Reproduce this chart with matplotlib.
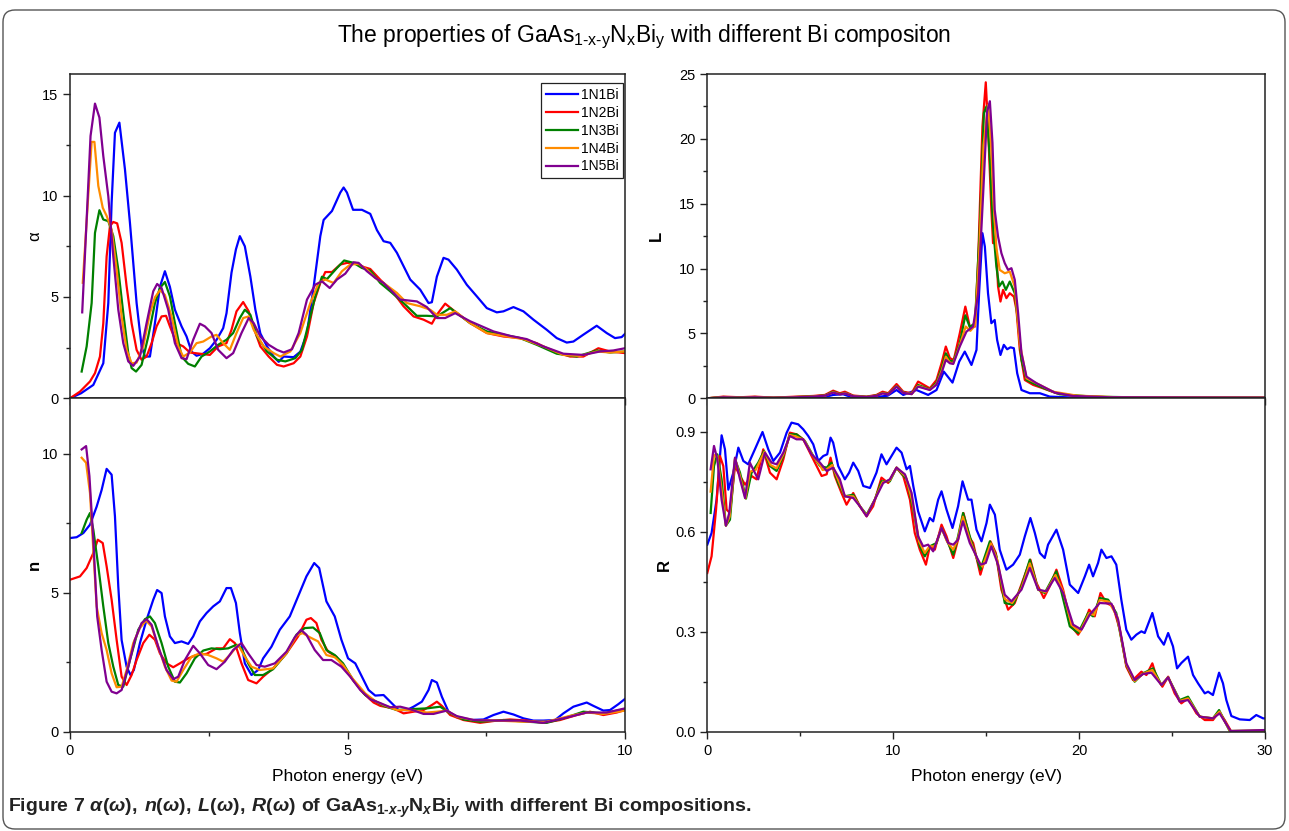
import matplotlib
matplotlib.use('Agg')
import matplotlib.pyplot as plt
from matplotlib import font_manager
from matplotlib.patches import FancyBboxPatch
from matplotlib.transforms import IdentityTransform
from matplotlib.ticker import MultipleLocator, FixedLocator, NullFormatter

labels = ['1N1Bi', '1N2Bi', '1N3Bi', '1N4Bi', '1N5Bi']
colors = ['#0000ff', '#ff0000', '#008000', '#ff8c00', '#800090']

# absorption coefficient alpha(E), E in eV
alpha_1n1bi = [(0, 0), (0.2, 0.25), (0.42, 0.66), (0.6, 1.73), (0.69, 4.7), (0.75, 9.65), (0.81, 13.1),
               (0.89, 13.6), (0.99, 11.3), (1.08, 8.66), (1.2, 4.7), (1.29, 2.56), (1.35, 2.06), (1.44, 2.06),
               (1.53, 3.7), (1.62, 5.5), (1.71, 6.27), (1.8, 5.5), (1.89, 4.37), (2.01, 3.55), (2.1, 3.05),
               (2.19, 2.3), (2.28, 2.1), (2.4, 2.2), (2.52, 2.47), (2.64, 2.88), (2.76, 3.46), (2.82, 4.2),
               (2.91, 6.2), (2.99, 7.35), (3.06, 8.0), (3.15, 7.5), (3.25, 6.0), (3.34, 4.37), (3.43, 3.2),
               (3.55, 2.56), (3.67, 2.06), (3.76, 1.8), (3.85, 2.06), (4.03, 2.03), (4.15, 2.3), (4.27, 3.2),
               (4.39, 5.5), (4.51, 8.0), (4.57, 8.8), (4.72, 9.24), (4.87, 10.15), (4.93, 10.4), (4.99, 10.15),
               (5.1, 9.3), (5.26, 9.3), (5.41, 9.1), (5.53, 8.3), (5.65, 7.75), (5.77, 7.67), (5.89, 7.18),
               (6.13, 5.86), (6.31, 5.36), (6.46, 4.7), (6.52, 4.74), (6.61, 6.0), (6.73, 6.93), (6.82, 6.84),
               (6.97, 6.35), (7.15, 5.6), (7.33, 5.03), (7.51, 4.45), (7.69, 4.24), (7.81, 4.29), (7.99, 4.5),
               (8.17, 4.29), (8.35, 3.88), (8.59, 3.38), (8.77, 2.97), (8.95, 2.75), (9.07, 2.8), (9.25, 3.14),
               (9.49, 3.58), (9.67, 3.22), (9.82, 2.97), (9.94, 3.02), (10.0, 3.18)]
alpha_1n2bi = [(0, 0), (0.18, 0.33), (0.36, 0.83), (0.45, 1.24), (0.54, 2.06), (0.6, 3.7), (0.66, 7.0),
               (0.72, 8.5), (0.78, 8.7), (0.85, 8.63), (0.93, 7.67), (1.02, 5.53), (1.11, 3.7), (1.2, 2.39),
               (1.29, 1.9), (1.38, 2.06), (1.47, 2.72), (1.56, 3.55), (1.65, 4.04), (1.73, 4.07), (1.8, 3.55),
               (1.92, 2.72), (2.04, 2.56), (2.16, 2.26), (2.34, 2.2), (2.52, 2.14), (2.67, 2.56), (2.82, 2.72),
               (2.91, 3.38), (3.0, 4.29), (3.12, 4.75), (3.22, 4.29), (3.31, 3.47), (3.43, 2.56), (3.58, 2.06),
               (3.73, 1.65), (3.85, 1.57), (4.03, 1.73), (4.15, 2.06), (4.27, 3.05), (4.39, 4.7), (4.51, 5.69),
               (4.6, 6.23), (4.72, 6.23), (4.87, 6.6), (4.99, 6.68), (5.14, 6.68), (5.29, 6.48), (5.41, 6.38),
               (5.59, 5.85), (5.83, 5.2), (6.01, 4.54), (6.19, 4.04), (6.37, 3.88), (6.52, 3.68), (6.61, 4.12),
               (6.76, 4.67), (6.91, 4.34), (7.21, 3.71), (7.51, 3.22), (7.81, 3.05), (8.11, 2.97), (8.41, 2.72),
               (8.71, 2.31), (9.01, 2.06), (9.25, 2.06), (9.52, 2.47), (9.73, 2.31), (10.0, 2.23)]
alpha_1n3bi = [(0.21, 1.32), (0.3, 2.56), (0.39, 4.7), (0.45, 8.16), (0.53, 9.28), (0.6, 8.82), (0.69, 8.74),
               (0.78, 8.0), (0.87, 6.35), (0.96, 4.2), (1.05, 2.23), (1.11, 1.49), (1.19, 1.32), (1.29, 1.65),
               (1.41, 3.05), (1.53, 4.7), (1.62, 5.44), (1.71, 5.74), (1.8, 5.03), (1.89, 3.71), (2.01, 2.06),
               (2.13, 1.7), (2.25, 1.57), (2.37, 2.06), (2.52, 2.31), (2.67, 2.64), (2.82, 2.89), (2.94, 3.22),
               (3.06, 3.96), (3.15, 4.37), (3.25, 4.12), (3.37, 3.05), (3.55, 2.31), (3.73, 1.9), (3.88, 1.82),
               (4.06, 1.98), (4.18, 2.39), (4.3, 3.71), (4.42, 5.03), (4.54, 6.0), (4.63, 5.88), (4.81, 6.43),
               (4.94, 6.8), (5.11, 6.68), (5.26, 6.43), (5.41, 6.3), (5.59, 5.69), (5.77, 5.28), (6.01, 4.7),
               (6.25, 4.07), (6.43, 4.07), (6.61, 4.04), (6.85, 4.45), (7.21, 3.71), (7.51, 3.3), (7.81, 3.14),
               (8.11, 2.97), (8.41, 2.64), (8.77, 2.2), (9.13, 2.06), (9.49, 2.36), (9.73, 2.26), (10.0, 2.31)]
alpha_1n4bi = [(0.23, 5.7), (0.39, 12.65), (0.44, 12.65), (0.51, 10.48), (0.59, 9.4), (0.66, 9.0), (0.75, 8.33),
               (0.84, 6.35), (0.93, 4.04), (1.02, 2.39), (1.11, 1.73), (1.2, 1.76), (1.32, 2.56), (1.44, 4.2),
               (1.53, 4.98), (1.62, 5.33), (1.71, 5.1), (1.83, 4.04), (1.95, 2.56), (2.04, 2.06), (2.16, 2.26),
               (2.28, 2.72), (2.4, 2.8), (2.55, 3.05), (2.64, 3.13), (2.76, 2.72), (2.88, 2.39), (3.0, 3.22),
               (3.12, 3.96), (3.22, 4.04), (3.31, 3.38), (3.49, 2.56), (3.67, 2.23), (3.79, 2.06), (3.97, 2.31),
               (4.15, 3.22), (4.33, 4.7), (4.48, 5.69), (4.6, 5.86), (4.75, 5.69), (4.9, 6.27), (5.05, 6.6),
               (5.2, 6.63), (5.35, 6.35), (5.5, 5.94), (5.65, 5.69), (5.89, 5.2), (6.07, 4.7), (6.31, 4.54),
               (6.49, 4.37), (6.61, 4.12), (6.79, 4.12), (6.94, 4.29), (7.21, 3.71), (7.51, 3.22), (7.81, 3.08),
               (8.17, 2.92), (8.53, 2.56), (8.89, 2.14), (9.19, 2.09), (9.49, 2.31), (9.73, 2.26), (10.0, 2.31)]
alpha_1n5bi = [(0.22, 4.24), (0.3, 8.82), (0.37, 12.94), (0.45, 14.54), (0.53, 13.85), (0.6, 11.95), (0.69, 9.97),
               (0.78, 7.0), (0.87, 4.37), (0.96, 2.72), (1.05, 1.82), (1.14, 1.6), (1.26, 2.06), (1.38, 3.71),
               (1.5, 5.28), (1.57, 5.64), (1.65, 5.44), (1.77, 4.37), (1.89, 2.72), (2.01, 1.98), (2.1, 1.93),
               (2.22, 2.89), (2.34, 3.68), (2.43, 3.55), (2.55, 3.22), (2.67, 2.39), (2.82, 1.98), (2.94, 2.23),
               (3.09, 3.22), (3.22, 3.96), (3.31, 3.71), (3.43, 3.05), (3.58, 2.64), (3.73, 2.39), (3.85, 2.26),
               (4.0, 2.42), (4.12, 3.22), (4.27, 4.87), (4.42, 5.61), (4.54, 5.77), (4.68, 5.44), (4.81, 5.86),
               (4.96, 6.15), (5.11, 6.71), (5.2, 6.68), (5.35, 6.27), (5.5, 5.94), (5.65, 5.69), (5.95, 4.87),
               (6.25, 4.78), (6.43, 4.5), (6.61, 3.96), (6.76, 3.96), (6.94, 4.2), (7.21, 3.8), (7.63, 3.3),
               (7.93, 3.08), (8.23, 2.92), (8.53, 2.56), (8.89, 2.2), (9.25, 2.14), (9.55, 2.31), (9.79, 2.36),
               (10.0, 2.47)]

# refractive index n(E)
n_1n1bi = [(0, 6.97), (0.12, 7.0), (0.24, 7.15), (0.36, 7.45), (0.48, 8.1), (0.57, 8.7), (0.66, 9.46), (0.75, 9.25),
           (0.81, 7.75), (0.87, 5.23), (0.93, 3.3), (1.02, 2.34), (1.09, 2.04), (1.15, 2.22), (1.26, 3.19),
           (1.38, 4.03), (1.5, 4.75), (1.57, 5.1), (1.65, 4.99), (1.71, 4.15), (1.8, 3.43), (1.89, 3.19),
           (2.01, 3.25), (2.13, 3.16), (2.22, 3.43), (2.34, 3.97), (2.46, 4.27), (2.58, 4.51), (2.7, 4.69),
           (2.82, 5.17), (2.9, 5.17), (2.99, 4.63), (3.06, 3.55), (3.15, 2.46), (3.27, 2.04), (3.39, 2.22),
           (3.48, 2.64), (3.63, 3.06), (3.78, 3.67), (3.96, 4.15), (4.11, 4.87), (4.26, 5.59), (4.4, 6.07),
           (4.49, 5.89), (4.62, 4.69), (4.77, 4.15), (4.89, 3.31), (5.01, 2.64), (5.14, 2.46), (5.26, 1.98),
           (5.38, 1.5), (5.5, 1.3), (5.65, 1.32), (5.77, 1.08), (5.92, 0.78), (6.07, 0.78), (6.19, 0.9),
           (6.34, 1.08), (6.46, 1.5), (6.52, 1.86), (6.61, 1.77), (6.7, 1.26), (6.82, 0.72), (6.97, 0.52),
           (7.21, 0.42), (7.45, 0.44), (7.63, 0.6), (7.81, 0.72), (7.99, 0.62), (8.17, 0.48), (8.35, 0.4),
           (8.53, 0.4), (8.74, 0.42), (8.89, 0.66), (9.07, 0.9), (9.31, 1.05), (9.43, 0.93), (9.61, 0.76),
           (9.73, 0.78), (9.88, 0.99), (10.0, 1.18)]
n_1n2bi = [(0, 5.47), (0.18, 5.59), (0.3, 5.89), (0.42, 6.43), (0.5, 6.91), (0.59, 6.79), (0.66, 5.95), (0.75, 4.75),
           (0.84, 3.31), (0.93, 1.98), (1.02, 1.68), (1.11, 2.04), (1.2, 2.58), (1.32, 3.19), (1.43, 3.49),
           (1.53, 3.31), (1.62, 2.82), (1.74, 2.46), (1.86, 2.32), (1.98, 2.46), (2.13, 2.64), (2.28, 2.76),
           (2.46, 2.8), (2.64, 3.0), (2.76, 3.0), (2.88, 3.33), (2.97, 3.19), (3.09, 2.46), (3.21, 1.86),
           (3.36, 1.74), (3.48, 1.98), (3.66, 2.28), (3.9, 2.82), (4.11, 3.43), (4.26, 4.03), (4.34, 4.09),
           (4.44, 3.91), (4.53, 3.31), (4.65, 2.88), (4.8, 2.7), (4.92, 2.34), (5.1, 1.86), (5.29, 1.38),
           (5.47, 1.05), (5.59, 0.93), (5.83, 0.84), (6.01, 0.66), (6.19, 0.72), (6.37, 0.78), (6.52, 0.96),
           (6.61, 1.08), (6.7, 0.93), (6.85, 0.6), (7.09, 0.42), (7.39, 0.32), (7.69, 0.4), (7.93, 0.44),
           (8.23, 0.4), (8.53, 0.32), (8.83, 0.42), (9.13, 0.6), (9.37, 0.72), (9.61, 0.6), (9.85, 0.69),
           (10.0, 0.78)]
n_1n3bi = [(0.21, 7.15), (0.3, 7.63), (0.36, 7.87), (0.42, 7.27), (0.51, 5.95), (0.6, 4.51), (0.69, 3.19),
           (0.78, 2.34), (0.87, 1.68), (0.96, 1.62), (1.08, 2.58), (1.23, 3.67), (1.35, 4.05), (1.44, 4.15),
           (1.53, 3.91), (1.65, 3.19), (1.77, 2.34), (1.89, 1.8), (1.98, 1.77), (2.1, 2.1), (2.25, 2.64),
           (2.4, 2.92), (2.55, 3.0), (2.7, 2.97), (2.85, 3.0), (3.0, 3.13), (3.09, 3.0), (3.21, 2.46),
           (3.33, 2.04), (3.48, 2.04), (3.66, 2.25), (3.9, 2.82), (4.08, 3.49), (4.23, 3.73), (4.38, 3.75),
           (4.5, 3.55), (4.62, 2.94), (4.77, 2.76), (4.92, 2.46), (5.1, 1.86), (5.32, 1.32), (5.5, 1.1),
           (5.65, 0.93), (5.89, 0.78), (6.13, 0.81), (6.43, 0.84), (6.67, 0.9), (6.85, 0.66), (7.09, 0.44),
           (7.39, 0.36), (7.81, 0.42), (8.23, 0.36), (8.59, 0.32), (8.89, 0.48), (9.25, 0.72), (9.61, 0.66),
           (10.0, 0.81)]
n_1n4bi = [(0.21, 9.86), (0.29, 9.68), (0.36, 8.59), (0.42, 6.55), (0.48, 4.51), (0.57, 3.55), (0.66, 2.94),
           (0.75, 2.1), (0.84, 1.6), (0.93, 1.62), (1.02, 2.22), (1.14, 3.19), (1.26, 3.73), (1.37, 4.0),
           (1.47, 3.79), (1.59, 3.06), (1.71, 2.34), (1.83, 1.84), (1.92, 1.8), (2.04, 2.22), (2.19, 2.7),
           (2.34, 2.82), (2.49, 2.76), (2.64, 2.64), (2.76, 2.52), (2.88, 2.76), (3.03, 3.13), (3.15, 2.7),
           (3.27, 2.34), (3.42, 2.22), (3.66, 2.28), (3.9, 2.82), (4.08, 3.45), (4.19, 3.55), (4.32, 3.4),
           (4.47, 3.25), (4.62, 2.76), (4.77, 2.68), (4.92, 2.4), (5.1, 1.89), (5.32, 1.38), (5.5, 1.1),
           (5.65, 0.96), (5.89, 0.78), (6.13, 0.78), (6.43, 0.69), (6.61, 0.72), (6.79, 0.76), (6.97, 0.54),
           (7.27, 0.42), (7.69, 0.4), (8.17, 0.36), (8.59, 0.36), (9.01, 0.57), (9.31, 0.69), (9.61, 0.64),
           (10.0, 0.76)]
n_1n5bi = [(0.21, 10.16), (0.29, 10.28), (0.35, 9.2), (0.42, 6.91), (0.49, 4.15), (0.57, 2.94), (0.66, 1.8),
           (0.75, 1.44), (0.84, 1.38), (0.93, 1.5), (1.05, 2.34), (1.17, 3.31), (1.29, 3.91), (1.38, 4.05),
           (1.47, 3.85), (1.59, 3.06), (1.74, 2.22), (1.86, 1.89), (1.95, 1.98), (2.07, 2.58), (2.22, 3.09),
           (2.34, 2.82), (2.49, 2.4), (2.64, 2.25), (2.79, 2.52), (2.94, 2.94), (3.09, 3.19), (3.21, 2.82),
           (3.36, 2.4), (3.51, 2.34), (3.69, 2.46), (3.9, 2.88), (4.05, 3.4), (4.16, 3.67), (4.26, 3.49),
           (4.41, 2.94), (4.56, 2.58), (4.71, 2.58), (4.89, 2.34), (5.05, 1.98), (5.23, 1.5), (5.41, 1.17),
           (5.59, 1.03), (5.77, 0.88), (5.95, 0.9), (6.13, 0.81), (6.37, 0.64), (6.55, 0.64), (6.79, 0.76),
           (6.97, 0.56), (7.27, 0.42), (7.69, 0.4), (8.11, 0.4), (8.53, 0.32), (8.89, 0.48), (9.31, 0.69),
           (9.67, 0.69), (10.0, 0.84)]

# energy loss function L(E)
loss_1n1bi = [(0, 0), (1, 0.02), (3, 0.03), (5, 0.05), (6.3, 0.1), (6.77, 0.26), (7.31, 0.31), (7.85, 0.05),
              (9.28, 0.13), (9.7, 0.2), (10.18, 0.64), (10.54, 0.26), (11.25, 0.64), (11.88, 0.26), (12.33, 0.64),
              (12.72, 2.06), (13.19, 1.21), (13.55, 2.83), (13.85, 3.6), (14.21, 2.57), (14.48, 3.73), (14.62, 8.1),
              (14.8, 12.73), (14.93, 11.7), (15.1, 8.1), (15.28, 5.79), (15.46, 6.04), (15.59, 4.5), (15.77, 3.34),
              (15.95, 4.12), (16.13, 3.78), (16.31, 3.93), (16.49, 3.86), (16.67, 1.93), (16.9, 0.64), (17.35, 0.39),
              (17.89, 0.39), (18.42, 0.13), (19.86, 0.05), (25, 0.02), (30, 0.02)]
loss_1n2bi = [(0, 0), (0.86, 0.13), (1.76, 0.08), (2.56, 0.13), (3.55, 0.05), (4.8, 0.13), (5.7, 0.18), (6.33, 0.26),
              (6.77, 0.59), (7.13, 0.39), (7.4, 0.51), (7.85, 0.21), (8.57, 0.13), (9.1, 0.26), (9.43, 0.51),
              (9.73, 0.39), (10.18, 1.1), (10.54, 0.51), (10.99, 0.39), (11.34, 1.29), (11.97, 0.77), (12.33, 1.41),
              (12.6, 2.7), (12.83, 3.99), (13.05, 3.09), (13.26, 2.96), (13.58, 5.0), (13.88, 7.07), (14.12, 5.53),
              (14.4, 5.53), (14.57, 10.67), (14.8, 20.96), (14.98, 24.36), (15.1, 20.96), (15.28, 14.53),
              (15.37, 11.96), (15.52, 11.96), (15.64, 8.62), (15.77, 7.46), (15.91, 8.36), (16.09, 7.72),
              (16.27, 8.1), (16.49, 7.84), (16.63, 6.82), (16.81, 3.73), (17.08, 1.41), (17.53, 1.03), (18.06, 0.77),
              (18.79, 0.39), (19.86, 0.18), (21.65, 0.08), (24.34, 0.05), (30, 0.05)]
loss_1n3bi = [(0, 0), (0.86, 0.1), (1.76, 0.06), (2.56, 0.1), (3.55, 0.04), (4.8, 0.1), (5.7, 0.15), (6.33, 0.22),
              (6.77, 0.51), (7.13, 0.33), (7.4, 0.42), (7.85, 0.18), (8.57, 0.11), (9.1, 0.22), (9.43, 0.42),
              (9.73, 0.33), (10.18, 0.95), (10.54, 0.45), (10.99, 0.35), (11.34, 1.03), (11.97, 0.69), (12.33, 1.2),
              (12.6, 2.3), (12.83, 3.47), (13.05, 2.9), (13.23, 2.83), (13.58, 4.24), (13.88, 6.4), (14.12, 5.5),
              (14.4, 5.79), (14.66, 13.25), (14.88, 22.0), (15.02, 22.5), (15.2, 18.4), (15.37, 13.25),
              (15.55, 10.16), (15.7, 8.62), (15.88, 9.0), (16.06, 8.36), (16.27, 9.0), (16.54, 8.1), (16.72, 5.79),
              (16.9, 2.96), (17.17, 1.41), (17.71, 1.03), (18.25, 0.69), (18.96, 0.31), (20.75, 0.13), (24, 0.05),
              (30, 0.05)]
loss_1n4bi = [(0, 0), (0.86, 0.09), (1.76, 0.05), (2.56, 0.09), (3.55, 0.04), (4.8, 0.09), (5.7, 0.14), (6.33, 0.2),
              (6.77, 0.47), (7.13, 0.31), (7.4, 0.4), (7.85, 0.17), (8.57, 0.1), (9.1, 0.2), (9.43, 0.4),
              (9.73, 0.31), (10.18, 0.92), (10.54, 0.43), (10.99, 0.33), (11.34, 0.95), (11.97, 0.66), (12.33, 1.1),
              (12.6, 2.1), (12.83, 3.21), (13.05, 2.75), (13.23, 2.7), (13.58, 4.1), (13.9, 5.53), (14.15, 5.2),
              (14.4, 5.6), (14.62, 11.0), (14.86, 19.5), (15.1, 22.6), (15.25, 20.0), (15.4, 15.0), (15.55, 11.6),
              (15.73, 9.9), (16.0, 9.64), (16.27, 9.77), (16.54, 8.6), (16.81, 4.24), (17.17, 1.54), (17.89, 1.03),
              (18.6, 0.51), (19.86, 0.21), (22, 0.08), (30, 0.05)]
loss_1n5bi = [(0, 0), (0.86, 0.08), (1.76, 0.05), (2.56, 0.08), (3.55, 0.04), (4.8, 0.08), (5.7, 0.13), (6.33, 0.2),
              (6.77, 0.44), (7.13, 0.3), (7.4, 0.38), (7.85, 0.16), (8.57, 0.1), (9.1, 0.19), (9.43, 0.38),
              (9.73, 0.3), (10.18, 0.9), (10.54, 0.42), (10.99, 0.32), (11.34, 0.9), (11.97, 0.64), (12.33, 1.05),
              (12.6, 1.95), (12.83, 2.96), (13.05, 2.7), (13.23, 2.65), (13.58, 3.99), (13.94, 5.14), (14.3, 5.53),
              (14.57, 8.1), (14.84, 15.8), (15.05, 22.1), (15.2, 22.9), (15.34, 19.7), (15.46, 14.53),
              (15.64, 12.47), (15.82, 11.19), (16.0, 10.42), (16.18, 9.9), (16.36, 10.03), (16.54, 9.13),
              (16.72, 6.56), (16.9, 3.47), (17.17, 1.67), (17.71, 1.16), (18.06, 0.9), (18.69, 0.44), (19.68, 0.18),
              (21.65, 0.08), (30, 0.05)]

# reflectivity R(E)
refl_1n1bi = [(0, 0.561), (0.23, 0.596), (0.5, 0.696), (0.77, 0.889), (0.95, 0.847), (1.13, 0.726), (1.4, 0.777),
              (1.67, 0.852), (1.94, 0.812), (2.2, 0.802), (2.56, 0.847), (2.97, 0.899), (3.28, 0.847), (3.55, 0.812),
              (3.91, 0.837), (4.27, 0.897), (4.53, 0.927), (4.89, 0.922), (5.16, 0.907), (5.43, 0.887),
              (5.7, 0.862), (5.97, 0.812), (6.24, 0.827), (6.45, 0.832), (6.63, 0.882), (6.77, 0.867),
              (7.04, 0.797), (7.4, 0.757), (7.63, 0.777), (7.85, 0.807), (8.12, 0.782), (8.39, 0.737),
              (8.75, 0.731), (9.1, 0.777), (9.37, 0.832), (9.64, 0.802), (9.91, 0.827), (10.18, 0.852),
              (10.45, 0.837), (10.72, 0.787), (10.9, 0.797), (11.08, 0.737), (11.34, 0.661), (11.7, 0.601),
              (11.97, 0.641), (12.15, 0.631), (12.42, 0.696), (12.6, 0.721), (12.87, 0.666), (13.19, 0.611),
              (13.49, 0.676), (13.73, 0.751), (14.03, 0.696), (14.21, 0.696), (14.48, 0.606), (14.75, 0.571),
              (15.02, 0.626), (15.2, 0.681), (15.47, 0.651), (15.73, 0.546), (16.09, 0.486), (16.45, 0.501),
              (16.81, 0.531), (17.08, 0.586), (17.38, 0.641), (17.62, 0.596), (17.89, 0.536), (18.15, 0.521),
              (18.33, 0.561), (18.78, 0.606), (19.14, 0.546), (19.5, 0.441), (19.95, 0.416), (20.31, 0.466),
              (20.54, 0.501), (20.75, 0.466), (21.02, 0.506), (21.2, 0.546), (21.47, 0.521), (21.74, 0.526),
              (22.0, 0.501), (22.27, 0.396), (22.54, 0.306), (22.81, 0.276), (23.08, 0.291), (23.35, 0.301),
              (23.53, 0.296), (23.94, 0.356), (24.25, 0.286), (24.56, 0.261), (24.79, 0.296), (25.05, 0.256),
              (25.27, 0.19), (25.5, 0.206), (25.86, 0.225), (26.13, 0.17), (26.4, 0.145), (26.76, 0.115),
              (26.94, 0.12), (27.2, 0.11), (27.53, 0.177), (27.74, 0.145), (27.92, 0.095), (28.19, 0.047),
              (28.64, 0.037), (29.18, 0.035), (29.53, 0.05), (29.9, 0.04), (30, 0.04)]
refl_1n2bi = [(0, 0.476), (0.23, 0.526), (0.47, 0.666), (0.68, 0.827), (0.86, 0.797), (1.04, 0.666), (1.22, 0.656),
              (1.49, 0.797), (1.76, 0.767), (2.03, 0.741), (2.38, 0.767), (2.65, 0.757), (3.01, 0.847), (3.37, 0.777),
              (3.73, 0.757), (4.09, 0.817), (4.44, 0.897), (4.8, 0.892), (5.16, 0.877), (5.52, 0.837), (5.88, 0.797),
              (6.15, 0.767), (6.42, 0.772), (6.63, 0.822), (6.86, 0.767), (7.22, 0.716), (7.49, 0.681),
              (7.85, 0.716), (8.21, 0.676), (8.57, 0.646), (8.92, 0.676), (9.37, 0.762), (9.73, 0.746),
              (10.18, 0.792), (10.54, 0.767), (10.9, 0.696), (11.16, 0.596), (11.43, 0.546), (11.76, 0.501),
              (11.97, 0.556), (12.24, 0.546), (12.6, 0.621), (12.87, 0.586), (13.23, 0.521), (13.49, 0.576),
              (13.78, 0.656), (14.12, 0.581), (14.3, 0.566), (14.69, 0.471), (14.98, 0.526), (15.23, 0.571),
              (15.52, 0.536), (15.82, 0.426), (16.18, 0.366), (16.54, 0.386), (16.99, 0.456), (17.38, 0.516),
              (17.71, 0.446), (18.1, 0.401), (18.42, 0.436), (18.78, 0.486), (19.14, 0.426), (19.59, 0.316),
              (19.95, 0.291), (20.22, 0.316), (20.54, 0.366), (20.84, 0.346), (21.15, 0.416), (21.47, 0.386),
              (21.83, 0.376), (22.19, 0.306), (22.54, 0.195), (22.9, 0.155), (23.35, 0.18), (23.62, 0.17),
              (23.94, 0.205), (24.16, 0.165), (24.48, 0.135), (24.79, 0.165), (25.14, 0.115), (25.5, 0.085),
              (25.86, 0.1), (26.31, 0.055), (26.76, 0.035), (27.2, 0.035), (27.53, 0.06), (27.83, 0.035),
              (28.19, 0.0), (30, 0.003)]
refl_1n3bi = [(0.18, 0.656), (0.36, 0.797), (0.54, 0.832), (0.77, 0.757), (1.0, 0.618), (1.22, 0.636), (1.49, 0.817),
              (1.76, 0.777), (2.08, 0.699), (2.38, 0.777), (2.74, 0.807), (3.05, 0.842), (3.37, 0.797), (3.73, 0.782),
              (4.09, 0.827), (4.44, 0.892), (4.8, 0.892), (5.25, 0.872), (5.7, 0.827), (6.06, 0.797), (6.42, 0.792),
              (6.68, 0.807), (7.04, 0.746), (7.4, 0.706), (7.85, 0.711), (8.21, 0.676), (8.57, 0.651),
              (9.01, 0.696), (9.37, 0.751), (9.82, 0.751), (10.18, 0.792), (10.72, 0.757), (11.08, 0.666),
              (11.43, 0.556), (11.7, 0.526), (11.97, 0.556), (12.33, 0.566), (12.6, 0.611), (12.87, 0.576),
              (13.23, 0.531), (13.49, 0.586), (13.76, 0.656), (14.12, 0.586), (14.69, 0.486), (15.2, 0.571),
              (15.55, 0.526), (16.0, 0.386), (16.45, 0.381), (16.9, 0.436), (17.35, 0.516), (17.8, 0.426),
              (18.15, 0.416), (18.78, 0.481), (19.5, 0.316), (19.95, 0.296), (20.49, 0.356), (20.75, 0.346),
              (21.11, 0.401), (21.56, 0.396), (22.0, 0.356), (22.54, 0.2), (22.99, 0.15), (23.44, 0.175),
              (23.98, 0.19), (24.43, 0.14), (24.79, 0.163), (25.41, 0.095), (25.86, 0.105), (26.49, 0.045),
              (27.2, 0.04), (27.53, 0.065), (28.1, 0.002), (30, 0.003)]
refl_1n4bi = [(0.18, 0.72), (0.36, 0.83), (0.54, 0.825), (0.77, 0.725), (1.0, 0.618), (1.2, 0.645), (1.49, 0.82),
              (1.76, 0.767), (2.05, 0.70), (2.3, 0.78), (2.6, 0.785), (2.9, 0.82), (3.08, 0.84), (3.4, 0.80),
              (3.73, 0.79), (4.09, 0.832), (4.44, 0.89), (4.8, 0.885), (5.2, 0.875), (5.65, 0.83), (6.06, 0.80),
              (6.2, 0.785), (6.42, 0.787), (6.72, 0.80), (7.08, 0.75), (7.4, 0.706), (7.85, 0.706), (8.21, 0.676),
              (8.57, 0.648), (9.01, 0.696), (9.42, 0.748), (9.82, 0.754), (10.18, 0.792), (10.68, 0.765),
              (11.03, 0.69), (11.4, 0.57), (11.7, 0.536), (11.95, 0.556), (12.25, 0.556), (12.6, 0.611),
              (12.9, 0.57), (13.23, 0.546), (13.49, 0.58), (13.75, 0.645), (14.12, 0.576), (14.5, 0.52),
              (14.8, 0.495), (15.1, 0.54), (15.25, 0.565), (15.6, 0.515), (16.0, 0.398), (16.4, 0.386),
              (16.9, 0.43), (17.35, 0.505), (17.8, 0.426), (18.2, 0.418), (18.73, 0.47), (19.14, 0.42),
              (19.6, 0.32), (20.05, 0.30), (20.53, 0.355), (20.8, 0.35), (21.11, 0.395), (21.6, 0.39),
              (22.05, 0.345), (22.54, 0.202), (22.99, 0.152), (23.44, 0.174), (23.94, 0.185), (24.43, 0.14),
              (24.79, 0.163), (25.41, 0.092), (25.86, 0.1), (26.49, 0.045), (27.2, 0.04), (27.55, 0.06),
              (28.12, 0.002), (30, 0.004)]
refl_1n5bi = [(0.18, 0.787), (0.36, 0.857), (0.54, 0.817), (0.77, 0.696), (1.0, 0.618), (1.18, 0.656), (1.49, 0.822),
              (1.76, 0.757), (2.03, 0.701), (2.29, 0.807), (2.51, 0.782), (2.74, 0.757), (3.1, 0.837), (3.46, 0.807),
              (3.73, 0.802), (4.09, 0.837), (4.44, 0.887), (4.8, 0.877), (5.16, 0.877), (5.61, 0.832), (6.06, 0.807),
              (6.42, 0.782), (6.77, 0.792), (7.13, 0.757), (7.4, 0.706), (7.85, 0.701), (8.21, 0.676),
              (8.57, 0.646), (9.01, 0.696), (9.46, 0.746), (9.82, 0.757), (10.18, 0.792), (10.63, 0.772),
              (10.99, 0.716), (11.34, 0.586), (11.61, 0.556), (11.88, 0.561), (12.15, 0.541), (12.6, 0.611),
              (12.96, 0.566), (13.23, 0.561), (13.49, 0.576), (13.75, 0.631), (14.12, 0.566), (14.39, 0.536),
              (14.69, 0.501), (14.98, 0.506), (15.28, 0.556), (15.64, 0.501), (16.0, 0.411), (16.36, 0.391),
              (16.9, 0.426), (17.35, 0.491), (17.8, 0.426), (18.24, 0.421), (18.69, 0.461), (19.14, 0.416),
              (19.68, 0.321), (20.13, 0.306), (20.57, 0.351), (21.11, 0.386), (21.74, 0.384), (22.1, 0.336),
              (22.54, 0.205), (22.99, 0.155), (23.44, 0.173), (23.89, 0.177), (24.43, 0.14), (24.79, 0.163),
              (25.41, 0.09), (25.86, 0.095), (26.49, 0.045), (27.2, 0.04), (27.56, 0.055), (28.15, 0.002),
              (30, 0.005)]

alpha_series = [alpha_1n1bi, alpha_1n2bi, alpha_1n3bi, alpha_1n4bi, alpha_1n5bi]
n_series = [n_1n1bi, n_1n2bi, n_1n3bi, n_1n4bi, n_1n5bi]
loss_series = [loss_1n1bi, loss_1n2bi, loss_1n3bi, loss_1n4bi, loss_1n5bi]
refl_series = [refl_1n1bi, refl_1n2bi, refl_1n3bi, refl_1n4bi, refl_1n5bi]

installed = {f.name for f in font_manager.fontManager.ttflist}
caption_font = 'Liberation Sans Narrow' if 'Liberation Sans Narrow' in installed else 'Liberation Sans'

plt.rcParams['font.family'] = ['Liberation Sans', 'DejaVu Sans']
plt.rcParams['mathtext.fontset'] = 'custom'
plt.rcParams['mathtext.rm'] = caption_font + ':bold'
plt.rcParams['mathtext.it'] = caption_font + ':bold:italic'
plt.rcParams['mathtext.bf'] = caption_font + ':bold'

W, H = 1289, 831
fig = plt.figure(figsize=(W / 100, H / 100), dpi=100)


def rect(x0, y0, x1, y1):
    # pixel box (top-left origin) -> figure fraction
    return [x0 / W, 1 - y1 / H, (x1 - x0) / W, (y1 - y0) / H]


ax_a = fig.add_axes(rect(70, 74, 625, 398.3))
ax_n = fig.add_axes(rect(70, 398.3, 625, 731.7))
ax_l = fig.add_axes(rect(707.3, 74, 1265, 398.3))
ax_r = fig.add_axes(rect(707.3, 398.3, 1265, 731.7))


def draw(ax, series):
    for pts, c, lab in zip(series, colors, labels):
        x, y = zip(*pts)
        ax.plot(x, y, color=c, lw=1.6, label=lab)


draw(ax_a, alpha_series)
draw(ax_n, n_series)
draw(ax_l, loss_series)
draw(ax_r, refl_series)

for ax in (ax_a, ax_n, ax_l, ax_r):
    for sp in ax.spines.values():
        sp.set_linewidth(1.1)
        sp.set_color('#222222')
    ax.tick_params(which='both', direction='out', top=False, right=False, color='#222222',
                   labelsize=10.5, width=1)
    ax.tick_params(which='major', length=5)
    ax.tick_params(which='minor', length=3)

ax_a.set_xlim(0, 10)
ax_a.set_ylim(0, 16)
ax_a.xaxis.set_major_locator(MultipleLocator(5))
ax_a.xaxis.set_minor_locator(MultipleLocator(2.5))
ax_a.xaxis.set_major_formatter(NullFormatter())
ax_a.yaxis.set_major_locator(MultipleLocator(5))
ax_a.yaxis.set_minor_locator(MultipleLocator(2.5))
ax_a.set_ylabel('α', fontsize=12, labelpad=0)

ax_n.set_xlim(0, 10)
ax_n.set_ylim(0, 12)
ax_n.xaxis.set_major_locator(MultipleLocator(5))
ax_n.xaxis.set_minor_locator(MultipleLocator(2.5))
ax_n.yaxis.set_major_locator(MultipleLocator(5))
ax_n.yaxis.set_minor_locator(MultipleLocator(2.5))
ax_n.set_ylabel('n', fontsize=12, fontweight='bold', labelpad=0)
ax_n.set_xlabel('Photon energy (eV)', fontsize=12.5, labelpad=8)

ax_l.set_xlim(0, 30)
ax_l.set_ylim(0, 25)
ax_l.xaxis.set_major_locator(FixedLocator([0, 7.5, 15, 22.5, 30]))
ax_l.xaxis.set_minor_locator(FixedLocator([3.75, 11.25, 18.75, 26.25]))
ax_l.xaxis.set_major_formatter(NullFormatter())
ax_l.yaxis.set_major_locator(MultipleLocator(5))
ax_l.yaxis.set_minor_locator(MultipleLocator(2.5))
ax_l.set_ylabel('L', fontsize=12, fontweight='bold', labelpad=11)

ax_r.set_xlim(0, 30)
ax_r.set_ylim(0, 1.0)
ax_r.xaxis.set_major_locator(MultipleLocator(10))
ax_r.xaxis.set_minor_locator(MultipleLocator(5))
ax_r.yaxis.set_major_locator(FixedLocator([0.0, 0.3, 0.6, 0.9]))
ax_r.yaxis.set_minor_locator(FixedLocator([0.15, 0.45, 0.75]))
ax_r.yaxis.set_major_formatter(plt.FuncFormatter(lambda v, p: f'{v:.1f}'))
ax_r.set_ylabel('R', fontsize=12, fontweight='bold', labelpad=2)
ax_r.set_xlabel('Photon energy (eV)', fontsize=12.5, labelpad=8)

leg = ax_a.legend(loc='upper right', bbox_to_anchor=(0.997, 0.972), borderaxespad=0,
                  fontsize=10, frameon=True, fancybox=False, framealpha=1,
                  handlelength=2.3, handletextpad=0.2, labelspacing=0.28, borderpad=0.35)
leg.get_frame().set_edgecolor('#222222')
leg.get_frame().set_linewidth(0.9)

fig.text(0.5, 1 - 37 / H,
         'The properties of GaAs$_{\\mathregular{1‐x‐y}}$N$_{\\mathregular{x}}$Bi$_{\\mathregular{y}}$ '
         'with different Bi compositon',
         ha='center', va='center', fontsize=16.5)

caption = (r'$\mathrm{Figure\ 7}\ \mathit{α(ω),\:n(ω),\:L(ω),\:R(ω)}\ \mathrm{of\ GaAs}_{\mathit{1‐x‐y}}'
           r'\mathrm{N}_{\mathit{x}}\mathrm{Bi}_{\mathit{y}}\ \mathrm{with\ different\ Bi\ compositions.}$')
fig.text(8 / W, 1 - 808 / H, caption, ha='left', va='center', fontsize=14, color='#222222')

# rounded frame around the whole figure
frame = FancyBboxPatch((3, 2), W - 7, H - 12, boxstyle='round,pad=0,rounding_size=12',
                       transform=IdentityTransform(), fill=False, edgecolor='#555555', lw=1.0)
fig.patches.append(frame)

fig.savefig('out.png', dpi=100)
